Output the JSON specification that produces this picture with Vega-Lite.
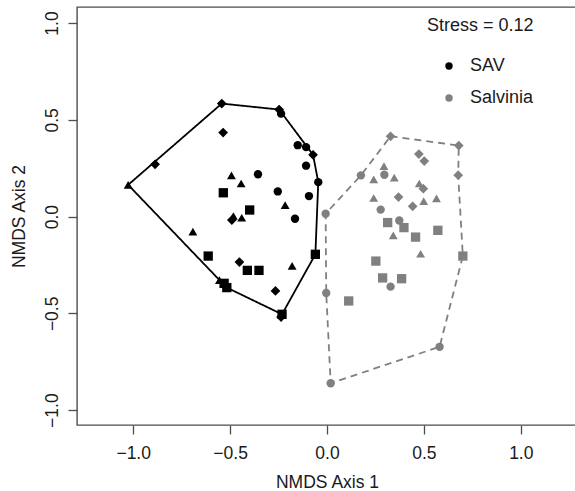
{
  "$schema": "https://vega.github.io/schema/vega-lite/v6.json",
  "width": 503,
  "height": 418,
  "autosize": "none",
  "padding": {"left": 77, "top": 7, "right": 0, "bottom": 66},
  "config": {
    "view": {"stroke": "#4d4d4d", "strokeWidth": 1.4},
    "font": "Liberation Sans",
    "axis": {
      "grid": false, "domain": false, "tickColor": "#4d4d4d", "tickSize": 9, "tickWidth": 1.3,
      "labelFont": "Liberation Sans", "labelFontSize": 17.5, "labelColor": "#1a1a1a",
      "titleFont": "Liberation Sans", "titleFontSize": 17.5, "titleFontWeight": "normal", "titleColor": "#1a1a1a"
    }
  },
  "datasets": {
    "points": [
      {"group": "SAV", "site": "D", "x": -0.543, "y": 0.584},
      {"group": "SAV", "site": "D", "x": -0.247, "y": 0.553},
      {"group": "SAV", "site": "C", "x": -0.237, "y": 0.532},
      {"group": "SAV", "site": "D", "x": -0.536, "y": 0.434},
      {"group": "SAV", "site": "C", "x": -0.151, "y": 0.369},
      {"group": "SAV", "site": "C", "x": -0.108, "y": 0.359},
      {"group": "SAV", "site": "D", "x": -0.072, "y": 0.319},
      {"group": "SAV", "site": "C", "x": -0.108, "y": 0.263},
      {"group": "SAV", "site": "D", "x": -0.887, "y": 0.27},
      {"group": "SAV", "site": "T", "x": -0.493, "y": 0.213},
      {"group": "SAV", "site": "C", "x": -0.356, "y": 0.219},
      {"group": "SAV", "site": "T", "x": -0.443, "y": 0.171},
      {"group": "SAV", "site": "C", "x": -0.045, "y": 0.178},
      {"group": "SAV", "site": "T", "x": -1.026, "y": 0.164},
      {"group": "SAV", "site": "S", "x": -0.535, "y": 0.123},
      {"group": "SAV", "site": "C", "x": -0.254, "y": 0.13},
      {"group": "SAV", "site": "C", "x": -0.093, "y": 0.106},
      {"group": "SAV", "site": "T", "x": -0.216, "y": 0.059},
      {"group": "SAV", "site": "S", "x": -0.399, "y": 0.034},
      {"group": "SAV", "site": "T", "x": -0.483, "y": 0.003},
      {"group": "SAV", "site": "D", "x": -0.491, "y": -0.018},
      {"group": "SAV", "site": "T", "x": -0.44, "y": -0.006},
      {"group": "SAV", "site": "C", "x": -0.165, "y": -0.011},
      {"group": "SAV", "site": "T", "x": -0.692, "y": -0.078},
      {"group": "SAV", "site": "S", "x": -0.06, "y": -0.195},
      {"group": "SAV", "site": "S", "x": -0.613, "y": -0.204},
      {"group": "SAV", "site": "D", "x": -0.452, "y": -0.235},
      {"group": "SAV", "site": "S", "x": -0.411, "y": -0.278},
      {"group": "SAV", "site": "S", "x": -0.351, "y": -0.278},
      {"group": "SAV", "site": "T", "x": -0.18, "y": -0.255},
      {"group": "SAV", "site": "T", "x": -0.555, "y": -0.328},
      {"group": "SAV", "site": "S", "x": -0.531, "y": -0.345},
      {"group": "SAV", "site": "S", "x": -0.517, "y": -0.367},
      {"group": "SAV", "site": "D", "x": -0.266, "y": -0.384},
      {"group": "SAV", "site": "S", "x": -0.232, "y": -0.505},
      {"group": "SAV", "site": "D", "x": -0.237, "y": -0.519},
      {"group": "Salvinia", "site": "D", "x": 0.328, "y": 0.415},
      {"group": "Salvinia", "site": "D", "x": 0.68, "y": 0.367},
      {"group": "Salvinia", "site": "D", "x": 0.474, "y": 0.323},
      {"group": "Salvinia", "site": "D", "x": 0.502, "y": 0.287},
      {"group": "Salvinia", "site": "T", "x": 0.294, "y": 0.261},
      {"group": "Salvinia", "site": "D", "x": 0.677, "y": 0.214},
      {"group": "Salvinia", "site": "C", "x": 0.175, "y": 0.213},
      {"group": "Salvinia", "site": "C", "x": 0.296, "y": 0.216},
      {"group": "Salvinia", "site": "T", "x": 0.241, "y": 0.192},
      {"group": "Salvinia", "site": "T", "x": 0.347, "y": 0.201},
      {"group": "Salvinia", "site": "T", "x": 0.476, "y": 0.171},
      {"group": "Salvinia", "site": "D", "x": 0.497, "y": 0.144},
      {"group": "Salvinia", "site": "T", "x": 0.241, "y": 0.096},
      {"group": "Salvinia", "site": "D", "x": 0.369, "y": 0.101},
      {"group": "Salvinia", "site": "T", "x": 0.499, "y": 0.08},
      {"group": "Salvinia", "site": "T", "x": 0.565, "y": 0.094},
      {"group": "Salvinia", "site": "D", "x": 0.442, "y": 0.053},
      {"group": "Salvinia", "site": "C", "x": 0.277, "y": 0.036},
      {"group": "Salvinia", "site": "C", "x": -0.007, "y": 0.015},
      {"group": "Salvinia", "site": "S", "x": 0.313, "y": -0.031},
      {"group": "Salvinia", "site": "C", "x": 0.373, "y": -0.02},
      {"group": "Salvinia", "site": "S", "x": 0.397, "y": -0.057},
      {"group": "Salvinia", "site": "S", "x": 0.572, "y": -0.071},
      {"group": "Salvinia", "site": "T", "x": 0.342, "y": -0.097},
      {"group": "Salvinia", "site": "S", "x": 0.457, "y": -0.106},
      {"group": "Salvinia", "site": "T", "x": 0.483, "y": -0.192},
      {"group": "Salvinia", "site": "S", "x": 0.701, "y": -0.204},
      {"group": "Salvinia", "site": "S", "x": 0.252, "y": -0.23},
      {"group": "Salvinia", "site": "S", "x": 0.287, "y": -0.317},
      {"group": "Salvinia", "site": "S", "x": 0.385, "y": -0.321},
      {"group": "Salvinia", "site": "C", "x": 0.328, "y": -0.362},
      {"group": "Salvinia", "site": "C", "x": -0.004, "y": -0.395},
      {"group": "Salvinia", "site": "S", "x": 0.112, "y": -0.436},
      {"group": "Salvinia", "site": "C", "x": 0.581, "y": -0.673},
      {"group": "Salvinia", "site": "C", "x": 0.019, "y": -0.861}
    ],
    "hulls": [
      {"group": "SAV", "order": 1, "x": -0.543, "y": 0.584},
      {"group": "SAV", "order": 2, "x": -0.247, "y": 0.553},
      {"group": "SAV", "order": 3, "x": -0.072, "y": 0.319},
      {"group": "SAV", "order": 4, "x": -0.045, "y": 0.178},
      {"group": "SAV", "order": 5, "x": -0.06, "y": -0.195},
      {"group": "SAV", "order": 6, "x": -0.232, "y": -0.505},
      {"group": "SAV", "order": 7, "x": -0.517, "y": -0.367},
      {"group": "SAV", "order": 8, "x": -0.555, "y": -0.328},
      {"group": "SAV", "order": 9, "x": -1.026, "y": 0.164},
      {"group": "SAV", "order": 10, "x": -0.543, "y": 0.584},
      {"group": "Salvinia", "order": 1, "x": 0.328, "y": 0.415},
      {"group": "Salvinia", "order": 2, "x": 0.68, "y": 0.367},
      {"group": "Salvinia", "order": 3, "x": 0.677, "y": 0.214},
      {"group": "Salvinia", "order": 4, "x": 0.701, "y": -0.204},
      {"group": "Salvinia", "order": 5, "x": 0.581, "y": -0.673},
      {"group": "Salvinia", "order": 6, "x": 0.019, "y": -0.861},
      {"group": "Salvinia", "order": 7, "x": -0.004, "y": -0.395},
      {"group": "Salvinia", "order": 8, "x": -0.007, "y": 0.015},
      {"group": "Salvinia", "order": 9, "x": 0.175, "y": 0.213},
      {"group": "Salvinia", "order": 10, "x": 0.328, "y": 0.415}
    ]
  },
  "layer": [
    {
      "data": {"name": "points"},
      "mark": {"type": "point", "filled": true, "opacity": 1, "strokeWidth": 0},
      "encoding": {
        "x": {"field": "x", "type": "quantitative",
          "scale": {"domain": [-1.29, 1.3055], "nice": false, "zero": false},
          "axis": {"title": "NMDS Axis 1", "values": [-1, -0.5, 0, 0.5, 1], "format": ".1f", "labelPadding": 10, "titlePadding": 12, "titleX": 250}},
        "y": {"field": "y", "type": "quantitative",
          "scale": {"domain": [-1.077, 1.083], "nice": false, "zero": false},
          "axis": {"title": "NMDS Axis 2", "values": [-1, -0.5, 0, 0.5, 1], "format": ".1f", "labelAngle": -90, "labelAlign": "center", "labelBaseline": "bottom", "labelPadding": 7, "titlePadding": 15}},
        "color": {"field": "group", "type": "nominal",
          "scale": {"domain": ["SAV", "Salvinia"], "range": ["#000000", "#808080"]},
          "legend": {
            "title": "Stress = 0.12", "orient": "none", "legendX": 350, "legendY": 10,
            "padding": 0, "titleFontSize": 18, "titleFontWeight": "normal", "titleColor": "#1a1a1a",
            "titlePadding": 22, "labelFontSize": 18, "labelColor": "#1a1a1a",
            "symbolSize": 55, "symbolOffset": 13, "labelOffset": 12, "rowPadding": 14,
            "symbolType": "circle", "symbolStrokeWidth": 0,
            "encode": {"symbols": {
              "shape": {"condition": {"test": "datum.value === 'Salvinia'", "value": "square"}, "value": "circle"},
              "opacity": {"value": 1}
            }}
          }},
        "shape": {"field": "site", "type": "nominal", "legend": null,
          "scale": {"domain": ["C", "T", "S", "D"], "range": ["circle", "triangle-up", "square", "diamond"]}},
        "size": {"field": "site", "type": "ordinal", "legend": null,
          "scale": {"domain": ["C", "T", "S", "D"], "range": [70, 95, 60, 55]}}
      }
    },
    {
      "data": {"name": "hulls"},
      "mark": {"type": "line", "strokeWidth": 1.8},
      "encoding": {
        "x": {"field": "x", "type": "quantitative"},
        "y": {"field": "y", "type": "quantitative"},
        "order": {"field": "order", "type": "quantitative"},
        "stroke": {"field": "group", "type": "nominal", "legend": null,
          "scale": {"domain": ["SAV", "Salvinia"], "range": ["#000000", "#808080"]}},
        "strokeDash": {"field": "group", "type": "nominal", "legend": null,
          "scale": {"domain": ["SAV", "Salvinia"], "range": [[1, 0], [7, 5]]}}
      }
    }
  ]
}
